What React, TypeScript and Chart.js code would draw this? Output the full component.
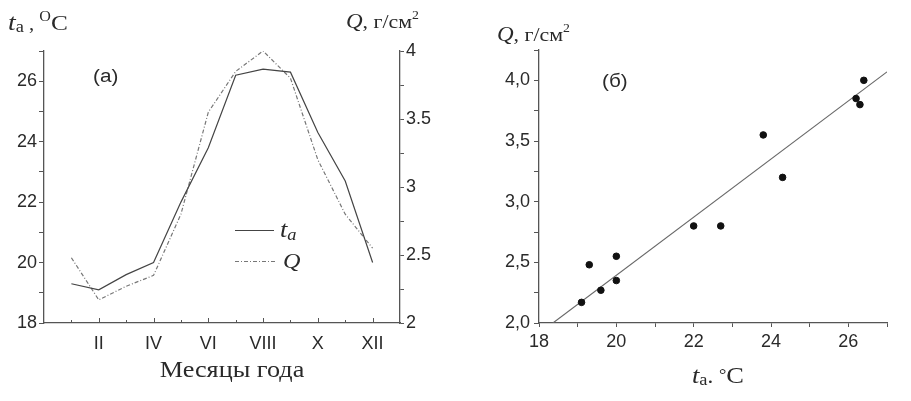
import React, { useEffect, useRef } from "react";
import { Chart, registerables } from "chart.js";

Chart.register(...registerables);

// ---------- data ----------
const monthNums = [1, 2, 3, 4, 5, 6, 7, 8, 9, 10, 11, 12];
const monthLabels = ["I", "II", "III", "IV", "V", "VI", "VII", "VIII", "IX", "X", "XI", "XII"];
const airTemp = [19.3, 19.1, 19.6, 20.0, 22.0, 23.8, 26.2, 26.4, 26.3, 24.3, 22.7, 20.0];
const qValues = [2.48, 2.17, 2.27, 2.35, 2.8, 3.55, 3.85, 4.0, 3.8, 3.2, 2.8, 2.55];
const fitT = [18.36, 27.0];
const fitQ = [2.0, 4.07];

const SANS = "'Liberation Sans', Arial, sans-serif";
const SERIF = "'Liberation Serif', 'Times New Roman', serif";
const AXIS = "#555";
const TXT = "#2a2a2a";
const SX = 1.15;

type Run = { t: string; f: string; dy?: number };
function drawRuns(
  ctx: CanvasRenderingContext2D,
  x: number,
  y: number,
  runs: Run[],
  align: "left" | "center" = "left",
  sx: number = SX
) {
  ctx.save();
  ctx.fillStyle = TXT;
  ctx.textBaseline = "alphabetic";
  ctx.textAlign = "left";
  let total = 0;
  for (const r of runs) {
    ctx.font = r.f;
    total += ctx.measureText(r.t).width;
  }
  const startX = align === "center" ? x - (total * sx) / 2 : x;
  ctx.translate(startX, y);
  ctx.scale(sx, 1);
  let cx = 0;
  for (const r of runs) {
    ctx.font = r.f;
    ctx.fillText(r.t, cx, r.dy || 0);
    cx += ctx.measureText(r.t).width;
  }
  ctx.restore();
}

const textPluginA = {
  id: "textA",
  afterDraw(chart: any) {
    const ctx = chart.ctx as CanvasRenderingContext2D;
    const xs = chart.scales.x;
    const ca = chart.chartArea;
    // inward ticks on month axis
    ctx.save();
    ctx.strokeStyle = AXIS;
    ctx.lineWidth = 1;
    for (const m of monthNums) {
      const px = Math.round(xs.getPixelForValue(m)) + 0.5;
      ctx.beginPath();
      ctx.moveTo(px, ca.bottom);
      ctx.lineTo(px, ca.bottom - (m % 2 === 0 ? 5 : 3));
      ctx.stroke();
    }
    ctx.restore();
    // axis titles
    drawRuns(ctx, 8, 30, [
      { t: "t", f: `italic 24px ${SERIF}` },
      { t: "a", f: `16px ${SERIF}`, dy: 2 },
      { t: " , ", f: `18px ${SERIF}` },
      { t: "O", f: `14px ${SERIF}`, dy: -9 },
      { t: "C", f: `22px ${SERIF}` },
    ]);
    drawRuns(ctx, 346, 28, [
      { t: "Q", f: `italic 20px ${SERIF}` },
      { t: ", г/см", f: `19px ${SERIF}` },
      { t: "2", f: `12px ${SERIF}`, dy: -9 },
    ]);
    drawRuns(ctx, 93, 82, [{ t: "(a)", f: `18px ${SANS}` }]);
    drawRuns(ctx, 232, 377, [{ t: "Месяцы года", f: `23px ${SERIF}` }], "center", 1.14);
    // legend
    ctx.save();
    ctx.strokeStyle = "#444";
    ctx.lineWidth = 1.2;
    ctx.beginPath();
    ctx.moveTo(235, 230.5);
    ctx.lineTo(274, 230.5);
    ctx.stroke();
    ctx.strokeStyle = "#777";
    ctx.setLineDash([4, 2, 1, 2]);
    ctx.beginPath();
    ctx.moveTo(235, 261.5);
    ctx.lineTo(275, 261.5);
    ctx.stroke();
    ctx.restore();
    drawRuns(ctx, 280, 237, [
      { t: "t", f: `italic 23px ${SERIF}` },
      { t: "a", f: `italic 16px ${SERIF}`, dy: 3 },
    ]);
    drawRuns(ctx, 283, 268, [{ t: "Q", f: `italic 21px ${SERIF}` }]);
  },
};

const textPluginB = {
  id: "textB",
  afterDraw(chart: any) {
    const ctx = chart.ctx as CanvasRenderingContext2D;
    const o = 460;
    drawRuns(ctx, 497 - o, 41, [
      { t: "Q", f: `italic 20px ${SERIF}` },
      { t: ", г/см", f: `19px ${SERIF}` },
      { t: "2", f: `12px ${SERIF}`, dy: -9 },
    ]);
    drawRuns(ctx, 602 - o, 87, [{ t: "(б)", f: `18px ${SANS}` }]);
    drawRuns(ctx, 692 - o, 383, [
      { t: "t", f: `italic 23px ${SERIF}` },
      { t: "a", f: `16px ${SERIF}`, dy: 2 },
      { t: ". ", f: `20px ${SERIF}` },
      { t: "°", f: `16px ${SERIF}`, dy: -3 },
      { t: "C", f: `23px ${SERIF}` },
    ]);
  },
};

const tickFont = { family: SANS, size: 18 };

export default function App() {
  const refA = useRef<HTMLCanvasElement>(null);
  const refB = useRef<HTMLCanvasElement>(null);

  useEffect(() => {
    const chartA = new Chart(refA.current as HTMLCanvasElement, {
      type: "line",
      data: {
        datasets: [
          {
            label: "ta",
            data: monthNums.map((m, i) => ({ x: m, y: airTemp[i] })),
            yAxisID: "y",
            borderColor: "#444",
            borderWidth: 1.2,
            pointRadius: 0,
            tension: 0,
          },
          {
            label: "Q",
            data: monthNums.map((m, i) => ({ x: m, y: qValues[i] })),
            yAxisID: "y2",
            borderColor: "#777",
            borderWidth: 1.2,
            borderDash: [4, 2, 1, 2],
            pointRadius: 0,
            tension: 0,
          },
        ],
      },
      options: {
        animation: false,
        responsive: false,
        maintainAspectRatio: false,
        layout: { padding: { top: 51, left: 0, right: 0, bottom: 0 } },
        plugins: { legend: { display: false }, tooltip: { enabled: false } },
        scales: {
          x: {
            type: "linear",
            min: 0,
            max: 13,
            afterFit: (s: any) => { s.height = 78; },
            grid: { display: false, drawTicks: false },
            border: { display: true, color: AXIS, width: 1.3 },
            ticks: {
              stepSize: 1,
              autoSkip: false,
              maxRotation: 0,
              padding: 10,
              color: TXT,
              font: tickFont,
              callback: (v: any) => (v % 2 === 0 && v >= 2 && v <= 12 ? monthLabels[v - 1] : ""),
            },
          },
          y: {
            type: "linear",
            position: "left",
            min: 18,
            max: 27,
            afterFit: (s: any) => { s.width = 44; },
            grid: { display: true, drawOnChartArea: false, tickLength: 5, color: AXIS },
            border: { display: true, color: AXIS, width: 1.3 },
            ticks: {
              stepSize: 1,
              autoSkip: false,
              padding: 2,
              color: TXT,
              font: tickFont,
              callback: (v: any) => (v % 2 === 0 ? String(v) : ""),
            },
          },
          y2: {
            type: "linear",
            position: "right",
            min: 2,
            max: 4,
            afterFit: (s: any) => { s.width = 60; },
            grid: { display: true, drawOnChartArea: false, tickLength: 4, color: AXIS },
            border: { display: true, color: AXIS, width: 1.3 },
            ticks: {
              stepSize: 0.25,
              autoSkip: false,
              padding: 2,
              color: TXT,
              font: tickFont,
              callback: (v: any) => (Math.abs(v * 2 - Math.round(v * 2)) < 1e-9 ? String(v) : ""),
            },
          },
        },
      },
      plugins: [textPluginA],
    } as any);

    const chartB = new Chart(refB.current as HTMLCanvasElement, {
      type: "scatter",
      data: {
        datasets: [
          {
            type: "scatter",
            label: "points",
            data: airTemp.map((t, i) => ({ x: t, y: qValues[i] })),
            backgroundColor: "#111",
            borderColor: "#111",
            pointRadius: 3.3,
          },
          {
            type: "line",
            label: "fit",
            data: fitT.map((t, i) => ({ x: t, y: fitQ[i] })),
            borderColor: "#666",
            borderWidth: 1.1,
            pointRadius: 0,
            fill: false,
          },
        ],
      },
      options: {
        animation: false,
        responsive: false,
        maintainAspectRatio: false,
        layout: { padding: { top: 50, left: 0, right: 24, bottom: 0 } },
        plugins: { legend: { display: false }, tooltip: { enabled: false } },
        scales: {
          x: {
            type: "linear",
            min: 18,
            max: 27,
            afterFit: (s: any) => { s.height = 78; },
            grid: { display: true, drawOnChartArea: false, tickLength: 4, color: AXIS },
            border: { display: true, color: AXIS, width: 1.3 },
            ticks: {
              stepSize: 1,
              autoSkip: false,
              maxRotation: 0,
              padding: 4,
              color: TXT,
              font: tickFont,
              callback: (v: any) => (v % 2 === 0 ? String(v) : ""),
            },
          },
          y: {
            type: "linear",
            min: 2,
            max: 4.25,
            afterFit: (s: any) => { s.width = 79; },
            grid: { display: true, drawOnChartArea: false, tickLength: 5, color: AXIS },
            border: { display: true, color: AXIS, width: 1.3 },
            ticks: {
              stepSize: 0.25,
              autoSkip: false,
              padding: 4,
              color: TXT,
              font: tickFont,
              callback: (v: any) =>
                Math.abs(v * 2 - Math.round(v * 2)) < 1e-9 ? Number(v).toFixed(1).replace(".", ",") : "",
            },
          },
        },
      },
      plugins: [textPluginB],
    } as any);

    return () => {
      chartA.destroy();
      chartB.destroy();
    };
  }, []);

  return (
    <div style={{ position: "fixed", left: 0, top: 0, width: 911, height: 401, background: "#fff" }}>
      <canvas ref={refA} width={460} height={401} style={{ position: "absolute", left: 0, top: 0, width: 460, height: 401 }} />
      <canvas ref={refB} width={451} height={401} style={{ position: "absolute", left: 460, top: 0, width: 451, height: 401 }} />
    </div>
  );
}
